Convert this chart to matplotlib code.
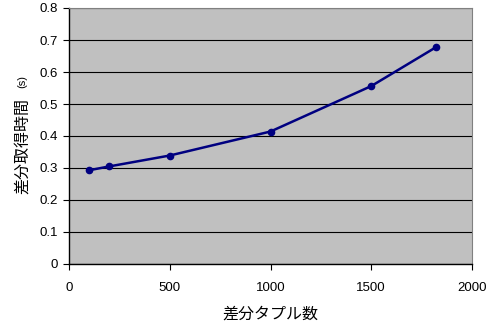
import matplotlib
matplotlib.use("Agg")
import matplotlib.pyplot as plt

plt.rcParams['font.family'] = ['Liberation Sans', 'Noto Sans CJK JP']

tuples = [100, 200, 500, 1000, 1500, 1820]
times = [0.293, 0.305, 0.339, 0.414, 0.556, 0.677]
xticks = [0, 500, 1000, 1500, 2000]
yticks = [0, 0.1, 0.2, 0.3, 0.4, 0.5, 0.6, 0.7, 0.8]

fig = plt.figure(figsize=(4.97, 3.24), dpi=100)
ax = fig.add_axes([69/497, 60/324, 403/497, 256/324])
ax.set_facecolor('#c0c0c0')
ax.set_xlim(0, 2000)
ax.set_ylim(0, 0.8)
ax.set_xticks(xticks)
ax.set_yticks(yticks)
ax.set_xticklabels([str(v) for v in xticks])
ax.set_yticklabels(['0'] + [f'{v:.1f}' for v in yticks[1:]])
ax.grid(axis='y', color='black', linewidth=0.8)
ax.set_axisbelow(True)
ax.plot(tuples, times, color='#000080', linewidth=1.8, marker='o', markersize=4.5, zorder=3)

for s in ['top', 'right']:
    ax.spines[s].set_color('#808080')
    ax.spines[s].set_linewidth(0.8)
for s in ['left', 'bottom']:
    ax.spines[s].set_color('black')
    ax.spines[s].set_linewidth(1.0)
ax.tick_params(axis='both', direction='out', length=4, width=0.8, labelsize=9.5, colors='black')
ax.tick_params(axis='x', pad=9)
ax.tick_params(axis='y', pad=4)

ax.set_xlabel('差分タプル数', fontsize=11.5, labelpad=9)
fig.text(22/497, 1 - 146/324, '差分取得時間', rotation=90, fontsize=11.5,
         ha='center', va='center')
fig.text(22/497, 1 - 82/324, '(s)', rotation=90, fontsize=8,
         ha='center', va='center')

fig.savefig('out.png', dpi=100)
